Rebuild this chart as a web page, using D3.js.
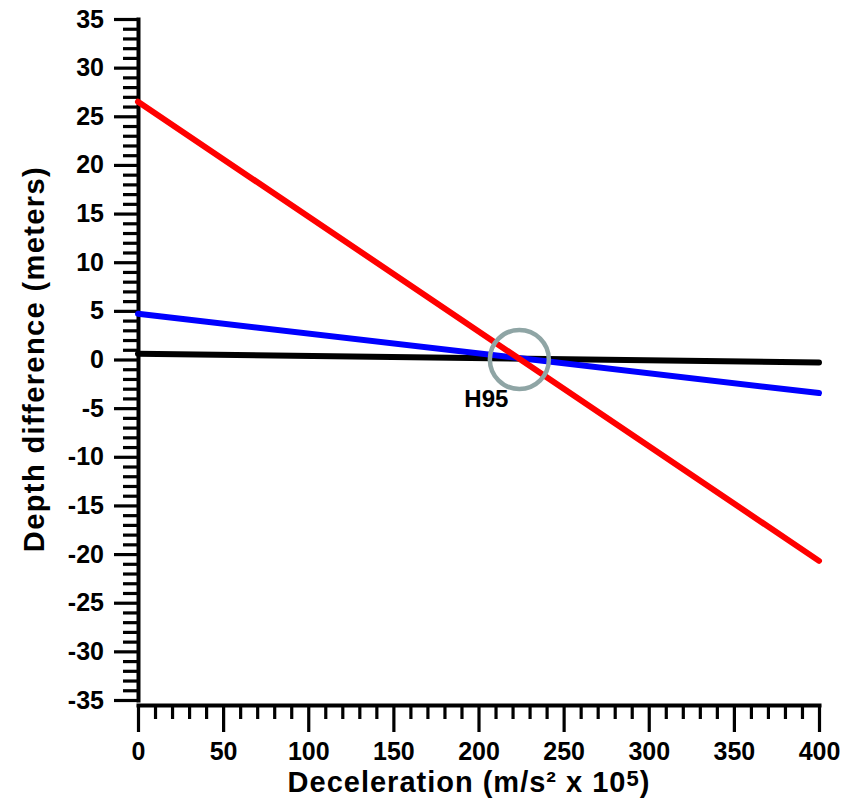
<!DOCTYPE html>
<html>
<head>
<meta charset="utf-8">
<script src="https://cdn.jsdelivr.net/npm/d3@7"></script>
<style>
  html, body { margin: 0; padding: 0; background: #fff; }
  svg { display: block; }
  text { font-family: "Liberation Sans", Arial, Helvetica, sans-serif; font-weight: bold; fill: #000; }
</style>
</head>
<body>
<svg id="chart" width="856" height="811"></svg>
<script>
// Deceleration values (m/s² x 10^5) at the two ends of each line
const deceleration = [0, 400];

// Depth difference (meters) for each series
const redDepth = [26.5, -20.7];
const blueDepth = [4.7, -3.45];
const blackDepth = [0.6, -0.3];

// Highlighted crossing point
const crossing = { label: "H95", x: 224, y: 0 };

const xMajorTicks = [0, 50, 100, 150, 200, 250, 300, 350, 400];
const yMajorTicks = [-35, -30, -25, -20, -15, -10, -5, 0, 5, 10, 15, 20, 25, 30, 35];

const svg = d3.select("#chart");

const x = d3.scaleLinear().domain([0, 400]).range([138, 819]);
const y = d3.scaleLinear().domain([-35, 35]).range([700, 19]);
const xAxisY = 705;

// Minor tick values: every 10 on x, every 1 on y, skipping the majors
const xMinor = d3.range(0, 401, 10).filter(v => v % 50 !== 0);
const yMinor = d3.range(-35, 36, 1).filter(v => v % 5 !== 0);

// Plain hyphen for negatives
const plain = d => String(d);

// ---- Y axis ----
const yMinorG = svg.append("g")
  .attr("transform", `translate(${x(0)},0)`)
  .call(d3.axisLeft(y).tickValues(yMinor).tickSize(15).tickSizeOuter(0).tickFormat(""));
yMinorG.select(".domain").remove();

svg.append("g")
  .attr("transform", `translate(${x(0)},0)`)
  .call(d3.axisLeft(y).tickValues(yMajorTicks).tickSize(24).tickSizeOuter(0).tickPadding(10).tickFormat(plain));

// ---- X axis ----
const xMinorG = svg.append("g")
  .attr("transform", `translate(0,${xAxisY})`)
  .call(d3.axisBottom(x).tickValues(xMinor).tickSize(14).tickSizeOuter(0).tickFormat(""));
xMinorG.select(".domain").remove();

svg.append("g")
  .attr("transform", `translate(0,${xAxisY})`)
  .call(d3.axisBottom(x).tickValues(xMajorTicks).tickSize(27).tickSizeOuter(0).tickPadding(10).tickFormat(plain));

svg.selectAll(".tick line").attr("stroke", "#000").attr("stroke-width", 3.2);
svg.selectAll(".domain").attr("stroke", "#000").attr("stroke-width", 4).attr("stroke-linecap", "square");
svg.selectAll(".tick text")
  .attr("font-family", "'Liberation Sans', Arial, sans-serif")
  .attr("font-weight", "bold")
  .attr("font-size", 25)
  .attr("fill", "#000");

// ---- Series lines ----
const line = d3.line().x(d => x(d[0])).y(d => y(d[1]));
const series = [
  { values: blackDepth, color: "#000000" },
  { values: blueDepth, color: "#0000ff" },
  { values: redDepth, color: "#ff0000" }
];
svg.append("g").selectAll("path")
  .data(series)
  .join("path")
  .attr("d", s => line(deceleration.map((d, i) => [d, s.values[i]])))
  .attr("fill", "none")
  .attr("stroke", s => s.color)
  .attr("stroke-width", 6)
  .attr("stroke-linecap", "round");

// ---- Crossing marker ----
svg.append("circle")
  .attr("cx", x(crossing.x))
  .attr("cy", y(crossing.y))
  .attr("r", 29.5)
  .attr("fill", "none")
  .attr("stroke", "#8fa5a5")
  .attr("stroke-width", 4.5);

svg.append("text")
  .attr("x", x(crossing.x) - 33)
  .attr("y", y(crossing.y) + 47)
  .attr("text-anchor", "middle")
  .attr("font-size", 24)
  .text(crossing.label);

// ---- Axis titles ----
const xTitle = svg.append("text")
  .attr("x", 469)
  .attr("y", 792)
  .attr("text-anchor", "middle")
  .attr("font-size", 29)
  .attr("letter-spacing", 1);
xTitle.append("tspan").text("Deceleration (m/s² x 10");
xTitle.append("tspan").attr("font-size", 22).attr("dy", -6).text("5");
xTitle.append("tspan").attr("dy", 6).text(")");

svg.append("text")
  .attr("transform", `translate(44,359) rotate(-90)`)
  .attr("text-anchor", "middle")
  .attr("font-size", 29)
  .attr("letter-spacing", 1.4)
  .text("Depth difference (meters)");
</script>
</body>
</html>
